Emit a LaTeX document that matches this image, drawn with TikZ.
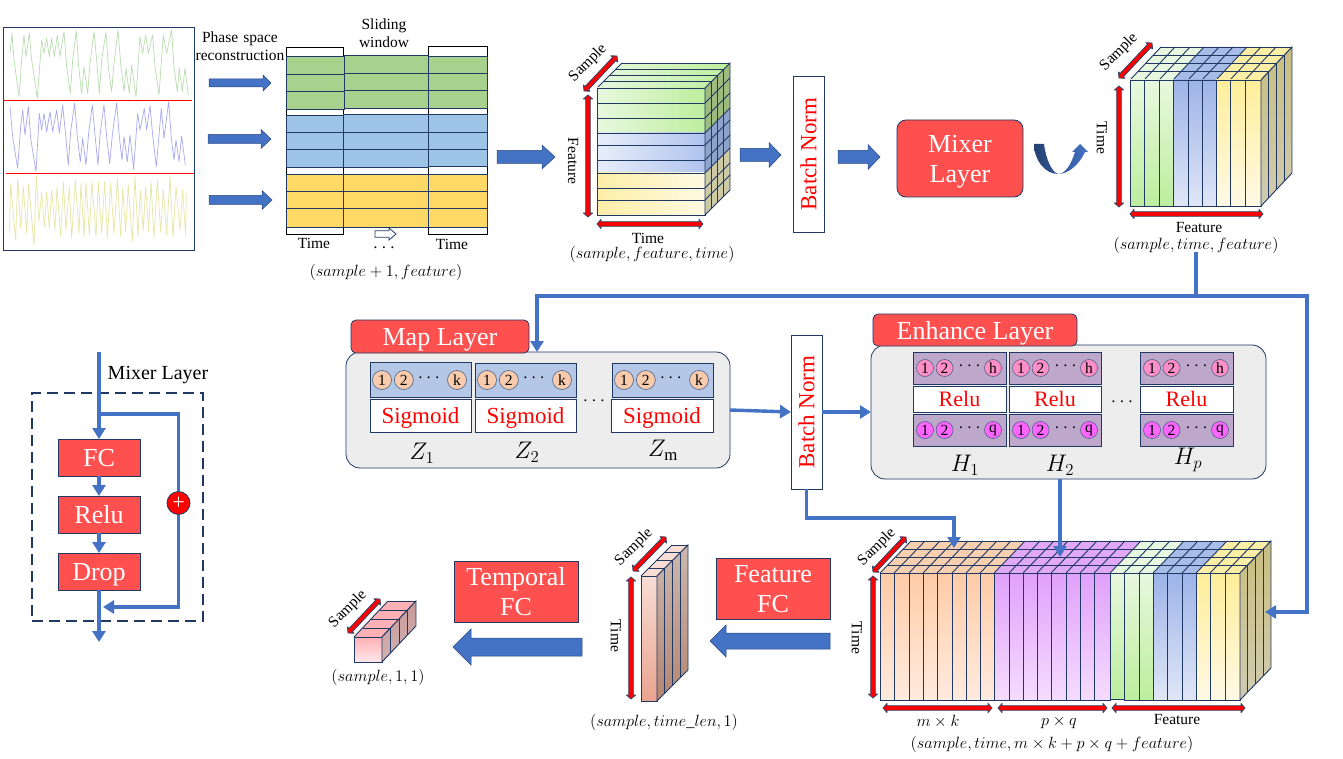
\RequirePackage{fix-cm}
\documentclass[tikz,border=0pt]{standalone}
\usepackage{fontspec}
\setmainfont{Liberation Serif}
\usetikzlibrary{calc,arrows.meta}
\definecolor{navy}{HTML}{1F3864}
\definecolor{bar}{HTML}{4472C4}
\definecolor{redbox}{HTML}{FF5050}
\definecolor{sigG}{HTML}{B9DDB0}
\definecolor{sigB}{HTML}{A8A8F0}
\definecolor{sigY}{HTML}{E6E6A6}
\definecolor{stG}{HTML}{A9D18E}
\definecolor{stB}{HTML}{9DC3E6}
\definecolor{stY}{HTML}{FFD966}
\definecolor{sdG}{HTML}{9DBB7E}
\definecolor{sdB}{HTML}{8EA3C9}
\definecolor{sdY}{HTML}{CDC9A5}
\definecolor{gA}{HTML}{E8F8DF}\definecolor{gB}{HTML}{BDEE9D}
\definecolor{bA}{HTML}{E8EEFA}\definecolor{bB}{HTML}{B0C4EE}
\definecolor{yA}{HTML}{FDEFA8}\definecolor{yB}{HTML}{FFF9E3}
\definecolor{bT}{HTML}{9DB3E8}\definecolor{bD}{HTML}{E0E6F6}
\definecolor{yT}{HTML}{FEEE9A}\definecolor{yD}{HTML}{FFF9E5}
\definecolor{gT}{HTML}{E8F8DF}\definecolor{gD}{HTML}{BDEE9D}
\definecolor{topG}{HTML}{E8F7DF}\definecolor{topB}{HTML}{A8BCE8}\definecolor{topY}{HTML}{FCEFA5}
\definecolor{topO}{HTML}{F8D0B0}\definecolor{topP}{HTML}{E0A8F5}
\definecolor{sT}{HTML}{C9BE80}\definecolor{sD}{HTML}{D0CBB0}
\definecolor{oT}{HTML}{FFCBA6}\definecolor{oD}{HTML}{FFEBDF}
\definecolor{pT}{HTML}{E0A0FA}\definecolor{pD}{HTML}{F5DCFD}
\definecolor{cA}{HTML}{F8DDD5}\definecolor{cB}{HTML}{E9A48F}
\definecolor{dA}{HTML}{CBB8AE}\definecolor{dB}{HTML}{B58570}
\definecolor{eA}{HTML}{FFB0B5}\definecolor{eB}{HTML}{FFE8EA}
\definecolor{eS}{HTML}{C89A9A}\definecolor{eR}{HTML}{D2B0B0}
\definecolor{zb}{HTML}{B4C7E7}\definecolor{oc}{HTML}{F8CBAD}
\definecolor{hb}{HTML}{BDA8CC}\definecolor{hc}{HTML}{FF8FC8}\definecolor{qc}{HTML}{FF66FF}
\newcommand{\fs}[1]{\fontsize{#1}{#1}\selectfont}
\tikzset{
  edge/.style={draw=navy,line width=0.9pt},
  conn/.style={draw=bar,line width=3.4pt,-{Triangle[width=13pt,length=11pt]}},
  connplain/.style={draw=bar,line width=3.4pt},
  block/.style={fill=bar,draw=navy!70!bar,line width=0.5pt},
  dbl/.style={fill=red,draw=navy!80!gray,line width=0.8pt,line join=round},
  redfill/.style={draw=navy,line width=0.8pt,fill=redbox,text=white,inner sep=0pt,outer sep=0pt,align=center,text depth=0pt},
  whitebox/.style={draw=navy,line width=0.8pt,fill=white,text=red,inner sep=0pt,outer sep=0pt,text depth=0pt},
  numc/.style={circle,draw=navy!80,line width=0.6pt,inner sep=0pt,text=black},
  lab/.style={inner sep=0pt,text=black},
  txt/.style={lab,font=\fs{15.5}},
  mth/.style={lab,font=\fs{16.3}},
  sym/.style={lab,font=\fs{24}},
}
\newcommand{\bx}[6]{\node[#6,minimum width={(#4-#2)*1pt},minimum height={(#5-#3)*1pt}] (#1) at ({(#2+#4)/2},{(#3+#5)/2})}
\newcommand{\blk}[6]{\path[#6] ($(#1)!#3pt!90:(#2)$) -- ($(#2)!#5pt!(#1)!#3pt!90:(#2)$) -- ($(#2)!#5pt!(#1)!#4pt!90:(#2)$) -- (#2) -- ($(#2)!#5pt!(#1)!#4pt!-90:(#2)$) -- ($(#2)!#5pt!(#1)!#3pt!-90:(#2)$) -- ($(#1)!#3pt!-90:(#2)$) -- cycle;}
\newcommand{\dblarrow}[2]{\path[dbl] (#1) -- ($(#1)!4pt!(#2)!4.6pt!90:(#2)$) -- ($(#1)!4pt!(#2)!2.3pt!90:(#2)$) -- ($(#2)!4pt!(#1)!2.3pt!-90:(#1)$) -- ($(#2)!4pt!(#1)!4.6pt!-90:(#1)$) -- (#2) -- ($(#2)!4pt!(#1)!4.6pt!90:(#1)$) -- ($(#2)!4pt!(#1)!2.3pt!90:(#1)$) -- ($(#1)!4pt!(#2)!2.3pt!-90:(#2)$) -- ($(#1)!4pt!(#2)!4.6pt!-90:(#2)$) -- cycle;}
\newcommand{\vcol}[6]{\shade[top color=#5,bottom color=#6] (#1,#3) rectangle (#2,#4); \draw[edge] (#1,#3) rectangle (#2,#4);}
\newcommand{\sidegrid}[7]{\shade[top color=#6,bottom color=#7] (#1,#2) -- (#1+#4,#2-#5) -- (#1+#4,#3-#5) -- (#1,#3) -- cycle;
  \draw[edge] (#1,#2) -- (#1+#4,#2-#5) -- (#1+#4,#3-#5) -- (#1,#3) -- cycle;
  \foreach \kk in {1,2,3} {\draw[edge] (#1+\kk*#4/4,#2-\kk*#5/4) -- (#1+\kk*#4/4,#3-\kk*#5/4);}}
\newcommand{\topband}[6]{\fill[#6] (#1,#3) -- (#2,#3) -- (#2+#4,#3-#5) -- (#1+#4,#3-#5) -- cycle;}
\newcommand{\topcross}[5]{\foreach \kk in {0,1,2,3,4} {\draw[edge] (#1+\kk*#4/4,#3-\kk*#5/4) -- (#2+\kk*#4/4,#3-\kk*#5/4);}}
\newcommand{\slants}[4]{\foreach \uu in {#1} {\draw[edge] (\uu,#2) -- (\uu+#3,#2-#4);}}
\newcommand{\stripe}[6]{\fill[#6] (#1,#2) rectangle (#3,#5); \draw[edge] (#1,#2) rectangle (#3,#5); \foreach \qq in {#4} {\draw[edge] (#1,\qq) -- (#3,\qq);}}
\newcommand{\fband}[4]{\shade[left color=#3,right color=#4] (597,#1) rectangle (705,#2);}
\newcommand{\LASTL}{k}
\newcommand{\nrow}[8]{%
  \node[numc,fill=#8,minimum size={2*#4*1pt},font=\fs{#7}] (#1a) at (#2+#5,#3) {1};
  \node[numc,fill=#8,minimum size={2*#4*1pt},font=\fs{#7}] (#1b) at (#2+#5+#4*2.3,#3) {2};
  \node[lab,font=\fs{19}] (#1d) at ({#2+#5+#4*2.3+25},#3-2) {$\cdots$};
  \node[numc,fill=#8,minimum size={2*#4*1pt},font=\fs{#7}] (#1c) at (#2+#6,#3) {\LASTL};}
\begin{document}
\begin{tikzpicture}[x=1pt,y=-1pt]
\useasboundingbox (0,0) rectangle (1343,759);
\fill[white] (0,0) rectangle (1343,759);
%%% signals
\node[draw=navy,line width=0.9pt,fill=white,minimum width=191pt,minimum height=223pt,inner sep=0pt,outer sep=0pt] (signals) at (98.5,138.5) {};
\begin{scope}[x=0.3333pt,y=-0.3333pt,yshift=-10pt,line width=0.7pt,line join=round]
\draw[color=sigG] plot coordinates {(30,130)(36,70)(42,150)(57,260)(65,150)(72,75)(78,140)(88,70)(95,150)(112,265)(125,90)(132,130)(140,85)(148,140)(155,85)(163,140)(172,75)(180,140)(192,65)(200,170)(211,250)(218,150)(229,62)(236,170)(245,250)(252,170)(263,250)(270,160)(282,65)(290,150)(298,250)(305,150)(318,65)(325,170)(335,245)(342,160)(354,60)(362,160)(372,245)(378,175)(388,250)(395,165)(408,262)(420,80)(428,130)(437,75)(445,130)(458,75)(465,170)(477,255)(490,75)(500,130)(515,60)(522,170)(532,245)(538,175)(547,245)(555,175)(565,255)};
\draw[color=sigB] plot coordinates {(30,290)(38,380)(53,475)(62,350)(68,300)(75,375)(85,290)(92,385)(108,485)(118,310)(125,360)(132,310)(140,365)(150,305)(158,365)(170,300)(178,370)(188,285)(197,375)(205,465)(212,365)(224,280)(232,380)(241,455)(248,385)(258,465)(266,370)(277,285)(286,385)(294,465)(300,375)(312,285)(320,380)(329,462)(337,375)(350,278)(358,380)(366,450)(372,380)(382,455)(390,375)(401,478)(413,310)(420,360)(433,295)(440,360)(450,287)(458,375)(469,470)(484,295)(492,385)(506,275)(514,385)(522,450)(528,390)(537,455)(545,378)(556,465)};
\draw[color=sigY] plot coordinates {(28,670)(32,520)(47,690)(53,505)(62,655)(70,530)(80,670)(86,520)(102,708)(109,495)(117,635)(125,545)(133,650)(140,545)(148,655)(155,540)(165,660)(171,530)(182,680)(190,515)(198,660)(208,530)(215,685)(226,510)(237,670)(243,520)(252,680)(258,515)(268,675)(276,515)(288,680)(295,515)(305,670)(314,515)(322,685)(332,520)(342,670)(352,505)(362,680)(368,535)(377,665)(385,525)(397,695)(405,500)(414,680)(421,540)(430,660)(437,530)(446,665)(453,515)(462,685)(472,510)(482,665)(490,540)(500,675)(510,500)(519,680)(528,530)(540,660)(548,540)(557,675)(559,550)};
\end{scope}
\draw[red,line width=0.9pt] (4,100) -- (192,100);
\draw[red,line width=0.9pt] (6,173) -- (194,173);
%%% sliding window stripes
\draw[black,line width=0.9pt] (286,47) rectangle (343,234);
\draw[black,line width=0.9pt] (428,46) rectangle (487,234);
\stripe{286}{56}{344}{74,91}{109}{stG}
\stripe{344}{55}{428}{73,90}{108}{stG}
\stripe{428}{56}{487}{73,90}{108}{stG}
\stripe{286}{115}{343}{132,149}{167}{stB}
\stripe{343}{114}{428}{132,149}{167}{stB}
\stripe{428}{114}{487}{132,149}{166}{stB}
\stripe{286}{174}{343}{191,208}{227}{stY}
\stripe{343}{174}{428}{191,208}{227}{stY}
\stripe{428}{174}{487}{191,208}{227}{stY}
\node[txt,align=center,text width=100pt] (phase) at (240,46) {Phase space\\[3pt]reconstruction};
\node[txt,align=center,text width=70pt] (slide) at (384,33) {Sliding\\[3pt]window};
\node[txt] (t1) at (314,243) {Time};
\node[txt] (t2) at (452,244) {Time};
\node[lab,font=\fs{19}] (ell) at (384,248) {$\cdots$};
\node[mth] (dim1) at (386,272) {$(sample+1,feature)$};
\coordinate (a1s) at (209,83); \coordinate (a1e) at (271,83);
\coordinate (a2s) at (208,139); \coordinate (a2e) at (271,139);
\coordinate (a3s) at (209,200); \coordinate (a3e) at (272,200);
\blk{a1s}{a1e}{4}{8}{8}{block}
\blk{a2s}{a2e}{4.5}{9.5}{10}{block}
\blk{a3s}{a3e}{4.5}{9.5}{10}{block}
\coordinate (hs) at (375,234); \coordinate (he) at (396,234);
\blk{hs}{he}{3.2}{6}{7}{fill=white,draw=navy,line width=0.8pt}
%%% flow arrows top
\coordinate (b1s) at (497,157); \coordinate (b1e) at (555,157);
\blk{b1s}{b1e}{6.5}{12}{13}{block}
\coordinate (b2s) at (740,155); \coordinate (b2e) at (781,155);
\blk{b2s}{b2e}{6.5}{12.5}{12}{block}
\coordinate (b3s) at (838,157); \coordinate (b3e) at (880,157);
\blk{b3s}{b3e}{6.5}{12.5}{12}{block}
%%% cube 1
\shade[left color=gA,right color=gB] (597,88) -- (705,88) -- (730,63) -- (622,63) -- cycle;
\foreach \k in {0,1,2,3,4} {\draw[edge] (597+\k*25/4,88-\k*25/4) -- (705+\k*25/4,88-\k*25/4);}
\draw[edge] (597,88) -- (622,63);
\fband{88}{133}{gA}{gB}\fband{133}{173}{bA}{bB}\fband{173}{215}{yA}{yB}
\draw[edge] (597,88) rectangle (705,215);
\foreach \q in {103,118,133,145,160,173,188,200} {\draw[edge] (597,\q) -- (705,\q);}
\fill[sdG] (705,88) -- (730,63) -- (730,108) -- (705,133) -- cycle;
\fill[sdB] (705,133) -- (730,108) -- (730,148) -- (705,173) -- cycle;
\fill[sdY] (705,173) -- (730,148) -- (730,190) -- (705,215) -- cycle;
\draw[edge] (705,88) -- (730,63) -- (730,190) -- (705,215) -- cycle;
\foreach \k in {1,2,3} {\draw[edge] (705+\k*25/4,88-\k*25/4) -- (705+\k*25/4,215-\k*25/4);}
\foreach \q in {103,118,133,145,160,173,188,200} {\draw[edge] (705,\q) -- (730,\q-25);}
\coordinate (s1a) at (584,91); \coordinate (s1b) at (617,56); \dblarrow{s1a}{s1b}
\coordinate (f1a) at (588,95); \coordinate (f1b) at (588,217); \dblarrow{f1a}{f1b}
\coordinate (t1a) at (597,224); \coordinate (t1b) at (703,224); \dblarrow{t1a}{t1b}
\node[txt,rotate=45] (s1) at (588,63) {Sample};
\node[txt,rotate=-90] (f1) at (573,161) {Feature};
\node[txt] (t1t) at (648,238) {Time};
\node[mth] (dim2) at (652,254) {$(sample,feature,time)$};
%%% batch norm 1, mixer
\bx{batch1}{793}{76}{824}{232}{whitebox} {\rotatebox{90}{\fs{23}Batch Norm}};
\node[redfill,rounded corners=9pt,minimum width=126pt,minimum height=77pt,font=\fs{26},text depth=0pt] (mixer) at (960,158.5) {Mixer\\[4pt]Layer};
\shade[left color=navy!85!bar,right color=bar] (1034,144) .. controls (1034,160) and (1045,174) .. (1058,174) .. controls (1068,174) and (1079,165) .. (1085,152) -- (1088,152) -- (1080,144) -- (1072,152) -- (1075,152) .. controls (1071,165) and (1065,174) .. (1058,174) .. controls (1052,172) and (1046,160) .. (1044,144) -- cycle;
%%% cube 2
\topband{1130}{1173}{80}{31}{33}{topG}
\topband{1173}{1216}{80}{31}{33}{topB}
\topband{1216}{1261}{80}{31}{33}{topY}
\topcross{1130}{1261}{80}{31}{33}
\slants{1130,1144,1159,1173,1188,1202,1216,1230,1245,1261}{80}{31}{33}
\foreach \a/\b in {1130/1144,1144/1159,1159/1173}{\vcol{\a}{\b}{80}{206}{gT}{gD}}
\foreach \a/\b in {1173/1188,1188/1202,1202/1216}{\vcol{\a}{\b}{80}{206}{bT}{bD}}
\foreach \a/\b in {1216/1230,1230/1245,1245/1261}{\vcol{\a}{\b}{80}{206}{yT}{yD}}
\sidegrid{1261}{80}{206}{31}{33}{sT}{sD}
\coordinate (s2a) at (1119,78); \coordinate (s2b) at (1152,43); \dblarrow{s2a}{s2b}
\coordinate (f2a) at (1119,86); \coordinate (f2b) at (1119,207); \dblarrow{f2a}{f2b}
\coordinate (t2a) at (1130,214); \coordinate (t2b) at (1263,214); \dblarrow{t2a}{t2b}
\node[txt,rotate=45] (s2) at (1119,52) {Sample};
\node[txt,rotate=-90] (t2t) at (1102,138) {Time};
\node[txt] (f2t) at (1199,228) {Feature};
\node[mth] (dim3) at (1196,245) {$(sample,time,feature)$};
%%% map layer
\node[draw=navy,line width=0.8pt,fill=black!7,rounded corners=14pt,minimum width=384pt,minimum height=116pt,outer sep=0pt] (mappanel) at (538,410) {};
\node[redfill,rounded corners=5pt,minimum width=178pt,minimum height=33pt,font=\fs{26}] (maptab) at (440,336.5) {Map Layer};
\foreach \nn/\lf/\rt/\tp in {1/370/471/362,2/475/576/363,3/612/713/363}{
  \node[draw=navy,line width=0.8pt,fill=zb,minimum width={(\rt-\lf)*1pt},minimum height={(397-\tp)*1pt},inner sep=0,outer sep=0] (mb\nn) at ({(\lf+\rt)/2},{(397+\tp)/2}) {};
  \nrow{mc\nn}{\lf}{380}{9.5}{12}{87}{15.5}{oc}
}
\bx{sg1}{370}{399}{471}{432}{whitebox} {\fs{23}Sigmoid};
\bx{sg2}{475}{399}{576}{432}{whitebox} {\fs{23}Sigmoid};
\bx{sg3}{611}{399}{713}{432}{whitebox} {\fs{23}Sigmoid};
\node[lab,font=\fs{19}] (md) at (594,401) {$\cdots$};
\node[sym] (z1) at (422,453) {$Z_1$};
\node[sym] (z2) at (527,452) {$Z_2$};
\node[sym] (zm) at (663,450) {$Z_{\mathrm{m}}$};
%%% enhance layer
\node[draw=navy,line width=0.8pt,fill=black!7,rounded corners=14pt,minimum width=395pt,minimum height=134pt,outer sep=0pt] (enhpanel) at (1068.5,412) {};
\node[redfill,rounded corners=5pt,minimum width=204pt,minimum height=32pt,font=\fs{26}] (enhtab) at (975,330) {Enhance Layer};
\foreach \nn/\lf/\rt in {1/913/1006,2/1009/1101,3/1140/1233}{
  \node[draw=navy,line width=0.8pt,fill=hb,minimum width={(\rt-\lf)*1pt},minimum height=32pt,inner sep=0,outer sep=0] (hu\nn) at ({(\lf+\rt)/2},368) {};
  \node[draw=navy,line width=0.8pt,fill=hb,minimum width={(\rt-\lf)*1pt},minimum height=32pt,inner sep=0,outer sep=0] (hq\nn) at ({(\lf+\rt)/2},430) {};
  \renewcommand{\LASTL}{h}
  \nrow{hc\nn}{\lf}{368}{8.5}{12}{80}{15.5}{hc}
  \renewcommand{\LASTL}{q}
  \nrow{qc\nn}{\lf}{430}{8.5}{12}{80}{15.5}{qc}
}
\bx{rl1}{913}{386}{1006}{412}{whitebox} {\fs{22}Relu};
\bx{rl2}{1009}{386}{1101}{412}{whitebox} {\fs{22}Relu};
\bx{rl3}{1140}{386}{1233}{412}{whitebox} {\fs{22}Relu};
\node[lab,font=\fs{19}] (hd) at (1122,402) {$\cdots$};
\node[sym] (h1) at (965,465) {$H_1$};
\node[sym] (h2) at (1060,465) {$H_2$};
\node[sym] (hp) at (1188,460) {$H_p$};
\bx{batch2}{791}{335}{822}{489}{whitebox} {\rotatebox{90}{\fs{23}Batch Norm}};
%%% cube 3
\topband{880}{994}{573}{31}{32}{topO}
\topband{994}{1110}{573}{31}{32}{topP}
\topband{1110}{1153}{573}{31}{32}{topG}
\topband{1153}{1196}{573}{31}{32}{topB}
\topband{1196}{1240}{573}{31}{32}{topY}
\topcross{880}{1240}{573}{31}{32}
\slants{880,894,909,923,937,952,966,980,994,1009,1023,1037,1051,1066,1080,1094,1110,1124,1139,1153,1167,1182,1196,1210,1225,1240}{573}{31}{32}
\foreach \a/\b in {880/894,894/909,909/923,923/937,937/952,952/966,966/980,980/994}{\vcol{\a}{\b}{573}{700}{oT}{oD}}
\foreach \a/\b in {994/1009,1009/1023,1023/1037,1037/1051,1051/1066,1066/1080,1080/1094,1094/1110}{\vcol{\a}{\b}{573}{700}{pT}{pD}}
\vcol{1110}{1124}{573}{699}{gT}{gD}
\foreach \a/\b in {1124/1139,1139/1153}{\vcol{\a}{\b}{573}{700}{gT}{gD}}
\foreach \a/\b in {1153/1167,1167/1182,1182/1196}{\vcol{\a}{\b}{573}{700}{bT}{bD}}
\foreach \a/\b in {1196/1210,1210/1225,1225/1240}{\vcol{\a}{\b}{573}{700}{yT}{yD}}
\sidegrid{1240}{573}{700}{31}{32}{sT}{sD}
\coordinate (s3a) at (873,572); \coordinate (s3b) at (906,537); \dblarrow{s3a}{s3b}
\coordinate (f3a) at (873,576); \coordinate (f3b) at (873,698); \dblarrow{f3a}{f3b}
\coordinate (m3a) at (883,708); \coordinate (m3b) at (992,708); \dblarrow{m3a}{m3b}
\coordinate (p3a) at (998,708); \coordinate (p3b) at (1107,708); \dblarrow{p3a}{p3b}
\coordinate (q3a) at (1112,708); \coordinate (q3b) at (1245,708); \dblarrow{q3a}{q3b}
\node[txt,rotate=45] (s3) at (877,547) {Sample};
\node[txt,rotate=-90] (t3) at (857,638) {Time};
\node[mth] (mk) at (938,722) {$m\times k$};
\node[mth] (pq) at (1059,722) {$p\times q$};
\node[txt] (fe) at (1177,719) {Feature};
\node[mth] (dim4) at (1052,744) {$(sample,time,m\times k+p\times q+feature)$};
%%% cube 4
\topband{641}{657}{576}{31}{31}{cA}
\topcross{641}{657}{576}{31}{31}
\slants{641,657}{576}{31}{31}
\vcol{641}{657}{576}{701}{cA}{cB}
\sidegrid{657}{576}{701}{31}{31}{dA}{dB}
\coordinate (s4a) at (633,571); \coordinate (s4b) at (666,537); \dblarrow{s4a}{s4b}
\coordinate (t4a) at (631,577); \coordinate (t4b) at (631,699); \dblarrow{t4a}{t4b}
\node[txt,rotate=45] (s4) at (634,547) {Sample};
\node[txt,rotate=-90] (t4) at (616,636) {Time};
\node[mth] (dim5) at (664,722) {$(sample,time\_len,1)$};
%%% cube 5
\topband{354}{382}{637}{34}{36}{eA}
\topcross{354}{382}{637}{34}{36}
\slants{354,382}{637}{34}{36}
\vcol{354}{382}{637}{662}{eA}{eB}
\sidegrid{382}{637}{662}{34}{36}{eS}{eR}
\coordinate (s5a) at (348,633); \coordinate (s5b) at (380,599); \dblarrow{s5a}{s5b}
\node[txt,rotate=45] (s5) at (348,609) {Sample};
\node[mth] (dim6) at (378,677) {$(sample,1,1)$};
%%% FC boxes and big arrows
\node[redfill,minimum width=124pt,minimum height=61pt,font=\fs{26}] (tfc) at (516,591.5) {Temporal\\[4pt]FC};
\node[redfill,minimum width=114pt,minimum height=61pt,font=\fs{26}] (ffc) at (773,588.5) {Feature\\[4pt]FC};
\coordinate (d1s) at (582,647); \coordinate (d1e) at (453,647);
\blk{d1s}{d1e}{9}{18}{18}{block}
\coordinate (d2s) at (830,641); \coordinate (d2e) at (710,641);
\blk{d2s}{d2e}{8}{16}{16}{block}
%%% connectors
\coordinate (c2out) at (1196,252);
\coordinate (jn) at (1196,296);
\coordinate (mapin) at (537,352);
\coordinate (side) at (1307,296);
\coordinate (c3side) at (1265,612);
\coordinate (c3a) at (954,548);
\coordinate (c3b) at (1060,557);
\coordinate (enhout) at (1060,479);
\draw[conn] (c2out) -- (jn) -| (mapin);
\draw[conn] (jn) -- (side) |- (c3side);
\draw[conn] (mappanel.east) -- (batch2.west);
\draw[conn] (batch2.east) -- (enhpanel.west);
\draw[conn] (batch2.south) |- ($(c3a)+(0,-30)$) -- (c3a);
\draw[conn] (enhout) -- (c3b);
%%% mixer detail
\node[draw=navy,line width=2.5pt,dash pattern=on 11pt off 6pt,minimum width=171pt,minimum height=228pt,outer sep=0pt] (mixbox) at (117.5,507) {};
\node[lab,font=\fs{20}] (mixlab) at (158,375) {Mixer Layer};
\node[redfill,minimum width=82pt,minimum height=37pt,font=\fs{26}] (fc) at (99,457.5) {FC};
\node[redfill,minimum width=82pt,minimum height=37pt,font=\fs{26}] (relu) at (99,514.5) {Relu};
\node[redfill,minimum width=82pt,minimum height=37pt,font=\fs{26}] (drop) at (99,571.5) {Drop};
\node[circle,draw=navy,line width=0.8pt,fill=red,minimum size=23pt,inner sep=0pt,text=white,font=\fs{22}] (plus) at (178.5,503) {+};
\coordinate (mtop) at (99,352);
\coordinate (jt) at (99,414);
\coordinate (merge) at (103,607);
\coordinate (mout) at (99,642);
\draw[conn] (mtop) -- (fc.north);
\draw[connplain] (jt) -| (plus.north);
\draw[conn] (plus.south) |- (merge);
\draw[conn] (fc.south) -- (relu.north);
\draw[conn] (relu.south) -- (drop.north);
\draw[conn] (drop.south) -- (mout);
\end{tikzpicture}
\end{document}
